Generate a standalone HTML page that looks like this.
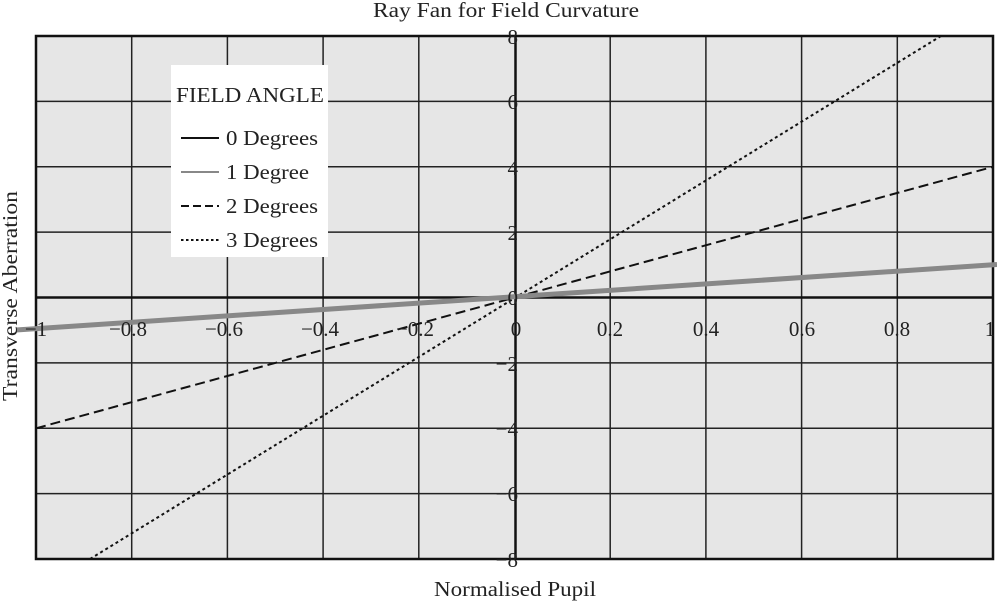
<!DOCTYPE html>
<html><head><style>body{margin:0;background:#fff}</style></head><body>
<svg width="997" height="602" xmlns="http://www.w3.org/2000/svg" font-family="Liberation Serif, serif" font-size="21" fill="#222">
<rect x="36" y="36" width="957" height="523" fill="#e6e6e6"/>
<g stroke="#222" stroke-width="1.5">
<line x1="131.7" y1="36" x2="131.7" y2="559"/><line x1="227.4" y1="36" x2="227.4" y2="559"/><line x1="323.1" y1="36" x2="323.1" y2="559"/><line x1="418.8" y1="36" x2="418.8" y2="559"/>
<line x1="610.2" y1="36" x2="610.2" y2="559"/><line x1="705.9" y1="36" x2="705.9" y2="559"/><line x1="801.6" y1="36" x2="801.6" y2="559"/><line x1="897.3" y1="36" x2="897.3" y2="559"/>
<line x1="36" y1="101.4" x2="993" y2="101.4"/><line x1="36" y1="166.8" x2="993" y2="166.8"/><line x1="36" y1="232.1" x2="993" y2="232.1"/>
<line x1="36" y1="362.9" x2="993" y2="362.9"/><line x1="36" y1="428.3" x2="993" y2="428.3"/><line x1="36" y1="493.6" x2="993" y2="493.6"/>
</g>
<g stroke="#111" stroke-width="2.5" fill="none">
<rect x="36" y="36" width="957" height="523"/>
<line x1="36" y1="297.5" x2="993" y2="297.5"/><line x1="515.5" y1="36" x2="515.5" y2="559"/>
</g>
<rect x="171" y="65" width="157" height="192" fill="#fff"/>
<text x="176" y="102" textLength="148" lengthAdjust="spacingAndGlyphs">FIELD ANGLE</text>
<line x1="181" y1="138" x2="219" y2="138" stroke="#111" stroke-width="2"/>
<line x1="181" y1="172" x2="219" y2="172" stroke="#888" stroke-width="2"/>
<line x1="181" y1="206" x2="219" y2="206" stroke="#111" stroke-width="2" stroke-dasharray="8,4"/>
<line x1="181" y1="240" x2="219" y2="240" stroke="#111" stroke-width="2" stroke-dasharray="2.5,2.5"/>
<text x="226" y="145" textLength="92" lengthAdjust="spacingAndGlyphs">0 Degrees</text><text x="226" y="179" textLength="83" lengthAdjust="spacingAndGlyphs">1 Degree</text><text x="226" y="213" textLength="92" lengthAdjust="spacingAndGlyphs">2 Degrees</text><text x="226" y="247" textLength="92" lengthAdjust="spacingAndGlyphs">3 Degrees</text>
<g stroke="#111" fill="none" stroke-width="2">
<line x1="36" y1="428.3" x2="993" y2="166.8" stroke-dasharray="10,5"/>
<line x1="90" y1="559" x2="941" y2="36" stroke-dasharray="3,3"/>
</g>
<line x1="16" y1="330" x2="997" y2="264.5" stroke="#888" stroke-width="5"/>
<g text-anchor="middle">
<text x="36" y="336">−1</text><text x="128" y="336">−0.8</text><text x="224" y="336">−0.6</text><text x="320" y="336">−0.4</text><text x="415" y="336">−0.2</text>
<text x="516" y="336">0</text><text x="610" y="336">0.2</text><text x="706" y="336">0.4</text><text x="802" y="336">0.6</text><text x="897" y="336">0.8</text><text x="990" y="336">1</text>
</g>
<g text-anchor="end">
<text x="518" y="44">8</text><text x="518" y="109">6</text><text x="518" y="175">4</text><text x="518" y="240">2</text><text x="518" y="305">0</text>
<text x="518" y="371">−2</text><text x="518" y="436">−4</text><text x="518" y="501">−6</text><text x="518" y="567">−8</text>
</g>
<text x="506" y="17" text-anchor="middle" textLength="266" lengthAdjust="spacingAndGlyphs">Ray Fan for Field Curvature</text>
<text x="515" y="596" text-anchor="middle" textLength="162" lengthAdjust="spacingAndGlyphs">Normalised Pupil</text>
<text transform="translate(17,296) rotate(-90)" text-anchor="middle" textLength="210" lengthAdjust="spacingAndGlyphs">Transverse Aberration</text>
</svg>
</body></html>
